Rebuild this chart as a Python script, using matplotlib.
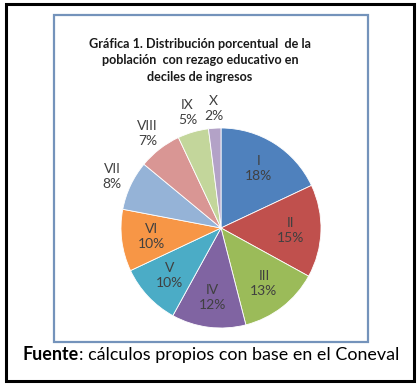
import matplotlib
matplotlib.use("Agg")
import matplotlib.pyplot as plt
import numpy as np
from matplotlib.patches import Rectangle

plt.rcParams['font.family'] = ['Lato', 'DejaVu Sans']

# datos
deciles = ["I", "II", "III", "IV", "V", "VI", "VII", "VIII", "IX", "X"]
porcentajes = [18, 15, 13, 12, 10, 10, 8, 7, 5, 2]
colores = ["#4f81bd", "#c0504d", "#9bbb59", "#8064a2", "#4bacc6",
           "#f79646", "#95b3d7", "#d99694", "#c3d69b", "#b3a2c7"]
etiquetas_fuera = ["VII", "VIII", "IX", "X"]

titulo = "Gráfica 1. Distribución porcentual  de la\npoblación  con rezago educativo en\ndeciles de ingresos"

W, H = 420, 387
fig = plt.figure(figsize=(W / 100, H / 100), dpi=100)

# capa de fondo en pixeles para los recuadros
bg = fig.add_axes([0, 0, 1, 1])
bg.set_xlim(0, W)
bg.set_ylim(H, 0)
bg.axis("off")
bg.add_patch(Rectangle((6, 4), 408, 377, fill=False, edgecolor="black", linewidth=2.2))
bg.add_patch(Rectangle((53.5, 15), 314.5, 327, fill=False, edgecolor="#7493bb", linewidth=1.6))

bg.text(200, 60.5, titulo, ha="center", va="center", fontsize=9.1, fontweight="bold",
        color="#1a1a1a", linespacing=1.45)

t1 = bg.text(23, 355, "Fuente", ha="left", va="center", fontsize=12.9,
             fontweight="bold", color="black")
bg.annotate(": cálculos propios con base en el Coneval", xy=(1, 0.5), xycoords=t1,
            ha="left", va="center", fontsize=12.9, color="black")

# pastel
cx, cy, r = 221, 228, 100
ax = fig.add_axes([(cx - r) / W, (H - cy - r) / H, 2 * r / W, 2 * r / H])
wedges, _ = ax.pie(porcentajes, colors=colores, startangle=90, counterclock=False,
                   radius=1, wedgeprops=dict(edgecolor="white", linewidth=0.6))
ax.set_xlim(-1, 1)
ax.set_ylim(-1, 1)
ax.set_aspect("equal")
ax.axis("off")

for w, nombre, val in zip(wedges, deciles, porcentajes):
    ang = np.deg2rad((w.theta1 + w.theta2) / 2)
    dist = 1.2 if nombre in etiquetas_fuera else 0.7
    ax.text(dist * np.cos(ang), dist * np.sin(ang), f"{nombre}\n{val}%",
            ha="center", va="center", fontsize=10, color="#404040",
            linespacing=1.3, clip_on=False)

fig.savefig("out.png", dpi=100)
